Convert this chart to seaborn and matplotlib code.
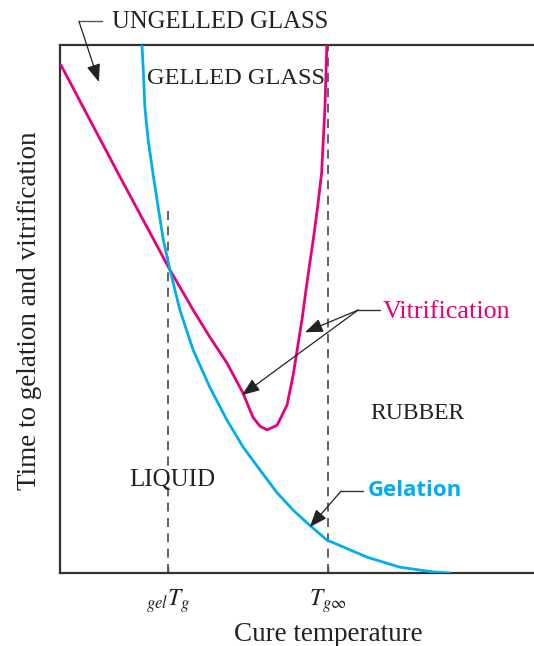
import matplotlib
matplotlib.use("Agg")
import matplotlib.pyplot as plt
import seaborn as sns
import pandas as pd

# ---- data (arbitrary units: temperature 0-100, time 0-100) ----
vit_temp = [0.2, 12.2, 23.2, 28.1, 31.6, 35.2, 38.6, 40.7, 42.2, 43.7, 45.8,
            47.9, 49.2, 50.2, 51.1, 51.9, 52.7, 53.6, 54.4, 55.2, 55.9, 56.3]
vit_time = [96.2, 75.8, 57.4, 49.8, 44.7, 39.8, 34.1, 29.5, 27.8, 27.1, 28.0,
            31.8, 37.5, 43.2, 48.3, 53.6, 58.7, 64.2, 69.7, 75.8, 88.3, 100.0]
gel_temp = [17.3, 17.6, 17.9, 18.6, 19.6, 20.7, 21.8, 23.2, 25.3, 28.1, 31.6, 35.2,
            38.6, 42.2, 45.8, 49.2, 52.1, 56.3, 64.8, 71.7, 78.7, 82.3]
gel_time = [100.0, 94.7, 88.3, 82.0, 75.8, 69.3, 63.1, 57.4, 49.8, 42.2, 35.2, 29.0,
            23.9, 19.5, 15.2, 11.9, 9.5, 6.25, 3.0, 1.1, 0.2, 0.0]
tick_pos = [22.8, 56.5]
tick_labels = [r'$_{gel}T_g$', r'$T_{g\infty}$']

MAGENTA = '#E6007E'
CYAN = '#00AEEF'
DARK = '#222222'

sns.set_theme(style='white')
plt.rcParams['font.family'] = ['Liberation Serif', 'DejaVu Serif']
plt.rcParams['mathtext.fontset'] = 'stix'

fig = plt.figure(figsize=(5.34, 6.46), dpi=100)
ax = fig.add_axes([60/534, 73/646, 474/534, 528/646])

vit = pd.DataFrame({'temp': vit_temp, 'time': vit_time})
gel = pd.DataFrame({'temp': gel_temp, 'time': gel_time})
sns.lineplot(data=vit, x='temp', y='time', color=MAGENTA, lw=2.0, sort=False,
             estimator=None, ax=ax, zorder=3)
sns.lineplot(data=gel, x='temp', y='time', color=CYAN, lw=2.0, sort=False,
             estimator=None, ax=ax, zorder=3)
for l in ax.lines:
    l.set_solid_joinstyle('round')
    l.set_solid_capstyle('round')

# dashed reference lines
ax.plot([tick_pos[0], tick_pos[0]], [0, 69.7], ls=(0, (5, 3.5)), color='#555555', lw=1.3, zorder=2)
ax.plot([tick_pos[1], tick_pos[1]], [0, 100], ls=(0, (5, 3.5)), color='#555555', lw=1.3, zorder=2)

ax.set_xlim(0, 100)
ax.set_ylim(0, 100)
ax.set_xticks(tick_pos)
ax.set_xticklabels(tick_labels, fontsize=17, color=DARK)
ax.set_yticks([])
ax.tick_params(axis='x', direction='in', length=5, width=1, color='#333333', pad=10, bottom=True)
for s in ['left', 'top', 'bottom']:
    ax.spines[s].set_visible(True)
    ax.spines[s].set_color('#333333')
    ax.spines[s].set_linewidth(1.6)
ax.spines['right'].set_visible(False)

ax.set_xlabel('Cure temperature', fontsize=19.5, color=DARK, labelpad=4)
ax.xaxis.set_label_coords(0.566, -0.092)
ax.set_ylabel('Time to gelation and vitrification', fontsize=19.5, color=DARK)
ax.yaxis.set_label_coords(-0.039, 0.497)

# region labels
ax.text(18.4, 93.6, 'GELLED GLASS', fontsize=17.6, color=DARK, ha='left', va='center')
ax.text(14.6, 17.6, 'LIQUID', fontsize=18, color=DARK, ha='left', va='center')
ax.text(65.5, 30.3, 'RUBBER', fontsize=17, color=DARK, ha='left', va='center')
ax.text(11.0, 104.4, 'UNGELLED GLASS', fontsize=17.8, color=DARK, ha='left', va='center', clip_on=False)

arrow_kw = dict(arrowstyle='-|>,head_length=0.9,head_width=0.35', color='#222222', lw=0.9,
                shrinkA=0, shrinkB=0)

# ungelled glass arrow
ax.plot([4.0, 8.8], [104.5, 104.5], color='#555555', lw=1.0, clip_on=False)
ax.annotate('', xy=(8.2, 93.0), xytext=(4.0, 104.5), arrowprops=arrow_kw, annotation_clip=False)

# vitrification arrows
ax.text(68.1, 49.5, 'Vitrification', fontsize=18.8, color=MAGENTA, ha='left', va='center')
ax.plot([62.9, 67.5], [49.8, 49.8], color='#333333', lw=1.0)
ax.annotate('', xy=(51.7, 45.6), xytext=(62.9, 49.8), arrowprops=arrow_kw)
ax.annotate('', xy=(38.4, 33.7), xytext=(62.9, 49.8), arrowprops=arrow_kw)

# gelation arrow
ax.text(65.0, 15.6, 'Gelation', fontsize=16, color=CYAN, ha='left', va='center',
        fontweight='bold', family=['Open Sans', 'DejaVu Sans'])
ax.plot([59.3, 63.9], [15.5, 15.5], color='#333333', lw=1.0)
ax.annotate('', xy=(52.7, 8.7), xytext=(59.3, 15.5), arrowprops=arrow_kw)

fig.savefig('out.png', dpi=100)
